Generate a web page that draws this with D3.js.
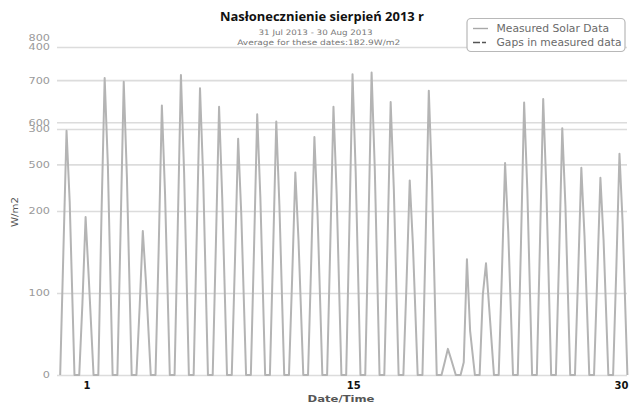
<!DOCTYPE html>
<html>
<head>
<meta charset="utf-8">
<script src="https://cdn.jsdelivr.net/npm/d3@7"></script>
<style>
  body { margin: 0; background: #fff; }
  svg { display: block; }
</style>
</head>
<body>
<svg id="chart" width="630" height="405"></svg>
<script>
// Daily solar irradiance readings, 31 Jul – 29 Aug 2013 (W/m2)
const firstDay = new Date(2013, 6, 31);
const lastDay = new Date(2013, 7, 30);
const readingHours = [4, 8, 12, 16, 22];
const morningW   = [290, 170, 380, 340, 160, 300, 350, 340, 310, 270, 300, 290, 230, 270, 310, 350, 350, 310, 220, 320, 30, 30, 190, 240, 310, 320, 280, 240, 230, 250];
const noonW      = [580, 375, 705, 696, 342, 640, 712, 681, 637, 561, 619, 602, 481, 565, 637, 714, 718, 648, 462, 675, 62, 275, 265, 503, 647, 655, 586, 492, 468, 525];
const afternoonW = [410, 230, 500, 470, 220, 430, 480, 470, 420, 380, 420, 400, 320, 380, 430, 480, 490, 440, 310, 460, 38, 105, 160, 340, 440, 440, 400, 330, 320, 360];
const lowerTicks = [0, 100, 200, 300, 400];
const upperTicks = [500, 600, 700, 800];
const dayTicks = [new Date(2013, 7, 1, 13), new Date(2013, 7, 15, 13), new Date(2013, 7, 30)];
const legendItems = ["Measured Solar Data", "Gaps in measured data"];

const svg = d3.select("#chart");
const plotLeft = 57, plotRight = 627, plotTop = 38, plotBottom = 375;

const x = d3.scaleTime().domain([firstDay, lastDay]).range([plotLeft, 629]);
const y = d3.scaleLinear().domain([0, 800]).range([plotBottom, plotTop]);
const yLower = d3.scaleLinear().domain([0, 400]).range([plotBottom, 47]);

// Stretch a text element horizontally to a given factor of its natural width
function widen(sel, f) {
  sel.each(function () {
    const w = this.getComputedTextLength();
    this.setAttribute("textLength", w * f);
    this.setAttribute("lengthAdjust", "spacingAndGlyphs");
  });
}
function fit(sel, w) {
  sel.attr("textLength", w).attr("lengthAdjust", "spacingAndGlyphs");
}

// Grid + value labels from both value scales
function gridAxis(scale, ticks) {
  const g = svg.append("g")
    .attr("transform", `translate(${plotLeft},0)`)
    .call(d3.axisLeft(scale).tickValues(ticks).tickSize(-(plotRight - plotLeft)).tickPadding(7));
  g.select(".domain").remove();
  g.selectAll(".tick line").attr("stroke", "#dcdcdc").attr("stroke-width", 1.6);
  g.selectAll(".tick text")
    .attr("fill", "#9a9a9a")
    .style("font-family", "DejaVu Sans")
    .style("font-size", "9px")
    .call(widen, 1.25);
  return g;
}
gridAxis(yLower, lowerTicks);
const up = gridAxis(y, upperTicks);
up.selectAll(".tick").filter(d => d === 800).select("line").remove();

// Series
const points = [];
d3.timeDay.range(firstDay, lastDay).forEach((day, i) => {
  const vals = [0, morningW[i], noonW[i], afternoonW[i], 0];
  readingHours.forEach((h, k) => points.push({ t: d3.timeHour.offset(day, h), v: vals[k] }));
});
svg.append("path")
  .datum(points)
  .attr("fill", "none")
  .attr("stroke", "#b4b4b4")
  .attr("stroke-width", 2)
  .attr("stroke-linejoin", "round")
  .attr("d", d3.line().x(d => x(d.t)).y(d => y(d.v)));

// Date axis
const xa = svg.append("g")
  .attr("transform", `translate(0,${plotBottom})`)
  .call(d3.axisBottom(x).tickValues(dayTicks).tickFormat(d3.timeFormat("%-d")).tickSize(0).tickPadding(7));
xa.select(".domain").remove();
xa.selectAll(".tick text")
  .attr("fill", "#111")
  .style("font-family", "DejaVu Sans")
  .style("font-weight", "bold")
  .style("font-size", "10px");
xa.selectAll(".tick").filter((d, i) => i === 2).select("text").attr("text-anchor", "end").attr("dx", -1);

svg.append("text")
  .attr("x", 341).attr("y", 402)
  .attr("text-anchor", "middle")
  .attr("fill", "#555")
  .style("font-family", "DejaVu Sans")
  .style("font-weight", "bold")
  .style("font-size", "9px")
  .text("Date/Time")
  .call(fit, 67);

svg.append("text")
  .attr("transform", "translate(18,212) rotate(-90)")
  .attr("text-anchor", "middle")
  .attr("fill", "#555")
  .style("font-family", "DejaVu Sans")
  .style("font-size", "9px")
  .text("W/m2")
  .call(fit, 30);

// Title block
svg.append("text")
  .attr("x", 322).attr("y", 21)
  .attr("text-anchor", "middle")
  .attr("fill", "#111")
  .style("font-family", "Open Sans")
  .style("font-weight", "bold")
  .style("font-size", "12.5px")
  .text("Nasłonecznienie sierpień 2013 r")
  .call(fit, 204);
svg.append("text")
  .attr("x", 315.5).attr("y", 35)
  .attr("text-anchor", "middle")
  .attr("fill", "#777")
  .style("font-family", "DejaVu Sans")
  .style("font-size", "7.5px")
  .text("31 Jul 2013 - 30 Aug 2013")
  .call(fit, 114);
svg.append("text")
  .attr("x", 318.7).attr("y", 44.5)
  .attr("text-anchor", "middle")
  .attr("fill", "#777")
  .style("font-family", "DejaVu Sans")
  .style("font-size", "7.5px")
  .text("Average for these dates:182.9W/m2")
  .call(fit, 163);

// Legend
const lg = svg.append("g");
lg.append("rect")
  .attr("x", 467).attr("y", 18.5).attr("width", 158).attr("height", 33)
  .attr("rx", 4)
  .attr("fill", "#fff")
  .attr("stroke", "#b8b8b8")
  .attr("stroke-width", 1.2);
const rows = lg.selectAll(".row").data(legendItems).join("g")
  .attr("transform", (d, i) => `translate(473,${28.5 + i * 14})`);
rows.append("line")
  .attr("x1", 0).attr("x2", 15)
  .attr("stroke", (d, i) => i === 0 ? "#a8a8a8" : "#555")
  .attr("stroke-width", 1.4)
  .attr("stroke-dasharray", (d, i) => i === 0 ? null : "7,2,4");
rows.append("text")
  .attr("x", 23.5).attr("y", 3.5)
  .attr("fill", "#6a6a6a")
  .style("font-family", "DejaVu Sans")
  .style("font-size", "10px")
  .text(d => d)
  .each(function (d, i) { d3.select(this).call(fit, i === 0 ? 112.5 : 125); });
</script>
</body>
</html>
